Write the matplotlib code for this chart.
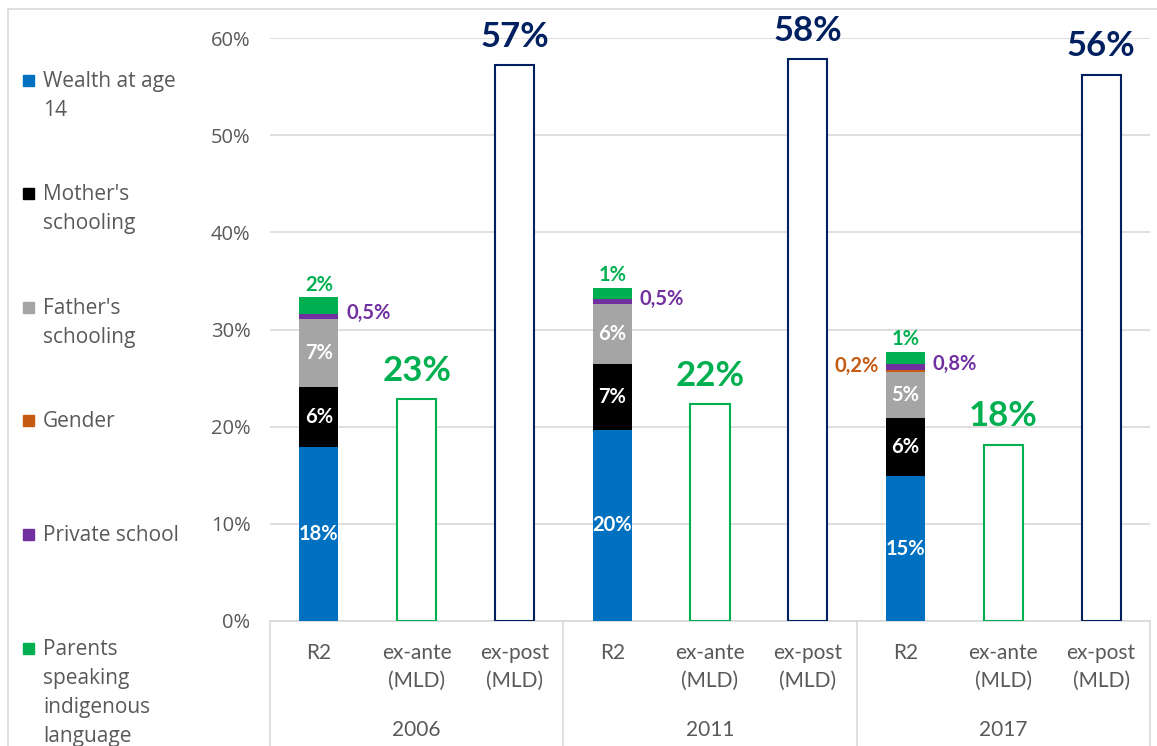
import numpy as np
import matplotlib.pyplot as plt
from matplotlib.patches import Rectangle
from matplotlib.lines import Line2D

years = ["2006", "2011", "2017"]
measures = ["R2", "ex-ante\n(MLD)", "ex-post\n(MLD)"]
factors = ["Wealth at age\n14", "Mother's\nschooling", "Father's\nschooling",
           "Gender", "Private school", "Parents\nspeaking\nindigenous\nlanguage"]
colors = ["#0070C0", "#000000", "#A5A5A5", "#C55A11", "#7030A0", "#00B050"]

# R2 decomposition per year (share, %)
wealth = [17.9, 19.7, 14.9]
mother = [6.2, 6.7, 6.0]
father = [7.0, 6.2, 4.7]
gender = [0.0, 0.0, 0.2]
private = [0.5, 0.5, 0.7]
indigenous = [1.7, 1.2, 1.2]
r2_labels = [["18%", "6%", "7%", "", "0,5%", "2%"],
             ["20%", "7%", "6%", "", "0,5%", "1%"],
             ["15%", "6%", "5%", "0,2%", "0,8%", "1%"]]

ex_ante = [22.8, 22.3, 18.1]
ex_post = [57.2, 57.8, 56.2]
ex_ante_labels = ["23%", "22%", "18%"]
ex_post_labels = ["57%", "58%", "56%"]

W, H = 1157, 746
fig = plt.figure(figsize=(W / 100, H / 100), dpi=100)
ax = fig.add_axes([270 / W, (H - 621) / H, 880 / W, (621 - 38) / H])

lab_font = "Lato"
grey_txt = "#595959"
bw = 0.4
small = 14.5

for g in range(3):
    x = g * 3
    stack = [wealth[g], mother[g], father[g], gender[g], private[g], indigenous[g]]
    bottom = 0
    for k, v in enumerate(stack):
        ax.bar(x, v, bw, bottom=bottom, color=colors[k], zorder=3)
        lab = r2_labels[g][k]
        if k < 3:
            ax.text(x, bottom + v / 2, lab, ha="center", va="center", color="white",
                    fontsize=small, fontweight="bold", family=lab_font, zorder=4)
        elif k == 3 and lab:
            ax.text(x - 0.27, bottom + v / 2 + 0.5, lab, ha="right", va="center",
                    color=colors[k], fontsize=small, fontweight="bold", family=lab_font)
        elif k == 4:
            ax.text(x + 0.28, bottom + v / 2 + 0.3, lab, ha="left", va="center",
                    color=colors[k], fontsize=small, fontweight="bold", family=lab_font)
        elif k == 5:
            ax.text(x, bottom + v + 0.3, lab, ha="center", va="bottom",
                    color=colors[k], fontsize=small, fontweight="bold", family=lab_font)
        bottom += v

    ax.bar(x + 1, ex_ante[g], bw, facecolor="white", edgecolor="#00B050", linewidth=1.5, zorder=3)
    ax.text(x + 1, ex_ante[g] + 1.3, ex_ante_labels[g], ha="center", va="bottom",
            color="#00B050", fontsize=25, fontweight="bold", family=lab_font)
    ax.bar(x + 2, ex_post[g], bw, facecolor="white", edgecolor="#002060", linewidth=1.5, zorder=3)
    ax.text(x + 2, ex_post[g] + 1.3, ex_post_labels[g], ha="center", va="bottom",
            color="#002060", fontsize=25, fontweight="bold", family=lab_font, clip_on=False)

ax.set_xlim(-0.5, 8.5)
ax.set_ylim(0, 60)
ax.set_yticks(np.arange(0, 61, 10))
ax.set_yticklabels([f"{t}%" for t in range(0, 61, 10)], family="Open Sans",
                   fontsize=14.5, color=grey_txt)
ax.tick_params(axis="y", length=0, pad=14)
ax.grid(axis="y", color="#D9D9D9", linewidth=1.2, zorder=0)
ax.set_axisbelow(True)
for s in ["top", "right", "left"]:
    ax.spines[s].set_visible(False)
ax.spines["bottom"].set_color("#D9D9D9")
ax.spines["bottom"].set_linewidth(1.2)

ax.set_xticks([])
for i in range(9):
    ax.text(i, -2.3, measures[i % 3], ha="center", va="top", fontsize=15,
            color=grey_txt, family=lab_font, linespacing=1.5)
for g in range(3):
    ax.text(g * 3 + 1, -10.2, years[g], ha="center", va="top", fontsize=15,
            color=grey_txt, family=lab_font)
for xs in [-0.5, 2.5, 5.5, 8.5]:
    ax.add_line(Line2D([xs, xs], [0, -13], color="#D9D9D9", linewidth=1.2,
                       clip_on=False))

# legend on the left
leg_y = [80, 193, 307, 420, 534, 648]
for k in range(6):
    fig.patches.append(Rectangle((23 / W, 1 - (leg_y[k] + 5.5) / H), 11 / W, 11 / H,
                                 transform=fig.transFigure, color=colors[k]))
    fig.text(43 / W, 1 - (leg_y[k] - 9) / H, factors[k], ha="left", va="top",
             fontsize=15, color=grey_txt, family="Open Sans", linespacing=1.5)

# chart area border (top and left)
fig.add_artist(Line2D([8 / W, 1], [1 - 9 / H, 1 - 9 / H], color="#D9D9D9",
                      linewidth=1.2, transform=fig.transFigure))
fig.add_artist(Line2D([8 / W, 8 / W], [0, 1 - 9 / H], color="#D9D9D9",
                      linewidth=1.2, transform=fig.transFigure))

fig.savefig("out.png", dpi=100)
